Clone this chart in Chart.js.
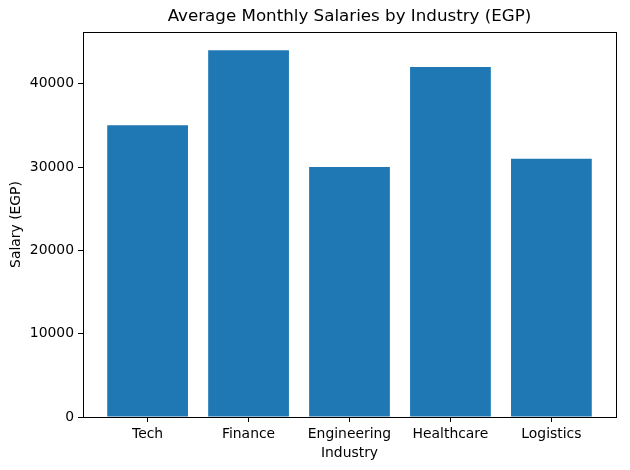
<!DOCTYPE html>
<html>
<head>
<meta charset="utf-8">
<script src="https://cdn.jsdelivr.net/npm/chart.js@4/dist/chart.umd.min.js"></script>
<style>
  html, body { margin: 0; padding: 0; background: #fff; }
  canvas { display: block; }
</style>
</head>
<body>
<canvas id="salaryChart" width="630" height="470"></canvas>
<script>
const industries = ['Tech', 'Finance', 'Engineering', 'Healthcare', 'Logistics'];
const salaries = [35000, 44000, 30000, 42000, 31000];
const yTicks = [0, 10000, 20000, 30000, 40000];
const chartTitle = 'Average Monthly Salaries by Industry (EGP)';

const FONT = 'DejaVu Sans';

// spines on all four sides + title centred over the axes, matplotlib style
const frame = {
  id: 'frame',
  afterDraw(chart) {
    const { ctx, chartArea: a } = chart;
    ctx.save();
    ctx.strokeStyle = '#000';
    ctx.lineWidth = 1;
    ctx.strokeRect(Math.round(a.left) + 0.5, Math.round(a.top) + 0.5,
      Math.round(a.right - a.left), Math.round(a.bottom - a.top));
    ctx.fillStyle = '#000';
    ctx.font = `16.7px "${FONT}"`;
    ctx.textAlign = 'center';
    ctx.textBaseline = 'middle';
    ctx.fillText(chartTitle, (a.left + a.right) / 2, 17);
    ctx.restore();
  }
};

const ctx = document.getElementById('salaryChart').getContext('2d');
new Chart(ctx, {
  type: 'bar',
  data: {
    datasets: [{
      data: industries.map((_, i) => ({ x: i, y: salaries[i] })),
      backgroundColor: '#1f77b4',
      borderWidth: 0,
      inflateAmount: 0,
      barPercentage: 0.8,
      categoryPercentage: 1.0
    }]
  },
  options: {
    responsive: false,
    animation: false,
    layout: { padding: { left: 0, right: 14, top: 32, bottom: 0 } },
    plugins: {
      legend: { display: false },
      tooltip: { enabled: false },
      title: { display: false }
    },
    scales: {
      x: {
        type: 'linear',
        offset: false,
        min: -0.64,
        max: 4.64,
        afterBuildTicks: s => { s.ticks = industries.map((_, i) => ({ value: i })); },
        afterFit: s => { s.height = 53; s.paddingLeft = 0; s.paddingRight = 0; },
        grid: { offset: false, drawOnChartArea: false, tickLength: 5, tickColor: '#000' },
        border: { display: true, color: '#000' },
        ticks: {
          color: '#000',
          padding: 4,
          maxRotation: 0,
          font: { family: FONT, size: 13.9 },
          callback: v => industries[v] ?? ''
        },
        title: {
          display: true,
          text: 'Industry',
          color: '#000',
          font: { family: FONT, size: 13.9 },
          padding: { top: 0, bottom: 8 }
        }
      },
      y: {
        min: 0,
        max: 46200,
        afterBuildTicks: s => { s.ticks = yTicks.map(v => ({ value: v })); },
        afterFit: s => { s.width = 83; s.paddingTop = 0; s.paddingBottom = 0; },
        grid: { drawOnChartArea: false, tickLength: 5, tickColor: '#000' },
        border: { display: true, color: '#000' },
        ticks: {
          color: '#000',
          padding: 4,
          font: { family: FONT, size: 13.9 },
          callback: v => String(v)
        },
        title: {
          display: true,
          text: 'Salary (EGP)',
          color: '#000',
          font: { family: FONT, size: 13.9 },
          padding: { top: 8, bottom: 0 }
        }
      }
    }
  },
  plugins: [frame]
});
</script>
</body>
</html>
